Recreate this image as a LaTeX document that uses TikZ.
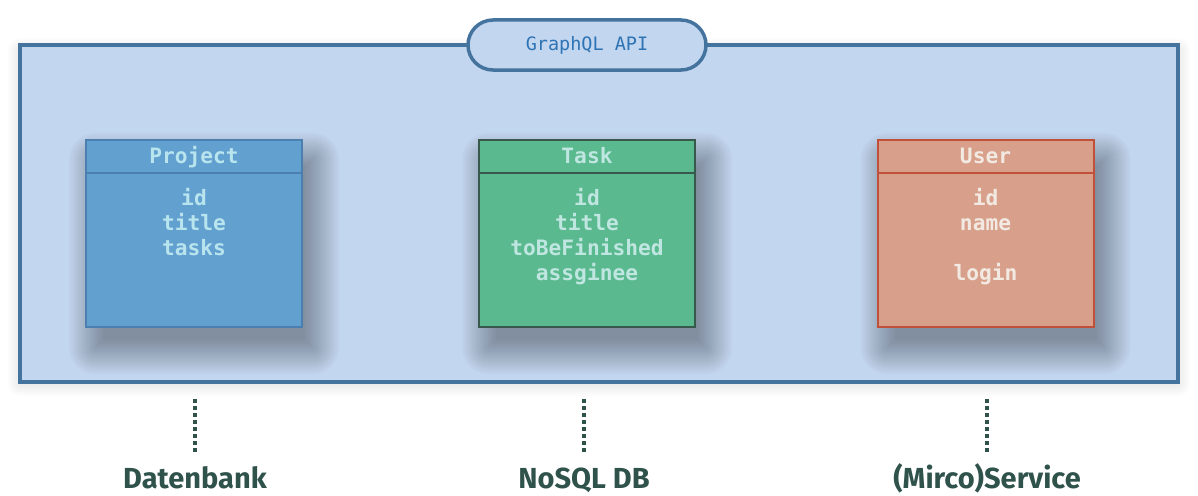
\documentclass[tikz,border=0pt]{standalone}
\usepackage{fontspec}
\setmainfont{Fira Sans}
\setmonofont{DejaVu Sans Mono}
\usetikzlibrary{calc,backgrounds}
\definecolor{apiline}{HTML}{44739E}
\definecolor{apifill}{HTML}{C3D6EF}
\definecolor{apitext}{HTML}{2E74B5}
\definecolor{pfill}{HTML}{62A0D0}
\definecolor{pline}{HTML}{4A7FB0}
\definecolor{ptext}{HTML}{B8E4EE}
\definecolor{tfill}{HTML}{5AB98E}
\definecolor{tline}{HTML}{37584A}
\definecolor{ttext}{HTML}{BFE6E0}
\definecolor{ufill}{HTML}{D8A08A}
\definecolor{uline}{HTML}{C0503A}
\definecolor{utext}{HTML}{F2EAE2}
\definecolor{labcol}{HTML}{2F524A}
\tikzset{
  entity/.style={rectangle, minimum width=216pt, minimum height=187pt, line width=2pt},
  field/.style={anchor=base, inner sep=0pt, font=\ttfamily\bfseries\fontsize{21.2}{25}\selectfont},
  backlabel/.style={anchor=base, inner sep=0pt, text=labcol, font=\bfseries\fontsize{29}{32}\selectfont},
  dotline/.style={line width=4pt, labcol, dash pattern=on 4pt off 3pt},
  shadowlayer/.style={black, opacity=0.02},
}
\newcommand\myboxshadow[1]{%
  \foreach \r in {-8,-6,...,26} {%
    \fill[shadowlayer, rounded corners={max(\r,0)*1pt}]
      ($(#1.south west)+(10-\r,20+\r)$) rectangle ($(#1.north east)+(10+\r,20-\r)$);
  }}
\begin{document}
\begin{tikzpicture}[x=1pt,y=-1pt]
\useasboundingbox (0,0) rectangle (1198,495);
% outer API box
\begin{scope}[on background layer]
\foreach \r in {0,2,...,12} {%
  \fill[black, opacity=0.012, rounded corners=\r pt] (20-\r,50-\r) rectangle (1178+\r,384+\r);
}
\node[rectangle, minimum width=1158pt, minimum height=337pt, draw=apiline, fill=apifill, line width=4pt]
  (outer) at (599,213.5) {};
\end{scope}
\node[rectangle, rounded corners=25pt, minimum width=238pt, minimum height=50pt, draw=apiline, fill=apifill,
  line width=3.5pt, text=apitext, font=\ttfamily\fontsize{18.5}{20}\selectfont] (api) at (587,45) {GraphQL API};

% Project
\node[entity, draw=pline, fill=pfill] (proj) at (194,233.5) {};
\draw[pline, line width=2pt] ([yshift=-34pt]proj.north west) -- ([yshift=-34pt]proj.north east);
\node[field, text=ptext] (projh) at (194,163) {Project};
\node[field, text=ptext] (proj1) at (194,205) {id};
\node[field, text=ptext] (proj2) at (194,230) {title};
\node[field, text=ptext] (proj3) at (194,255) {tasks};

% Task
\node[entity, draw=tline, fill=tfill] (task) at (587,233.5) {};
\draw[tline, line width=2pt] ([yshift=-34pt]task.north west) -- ([yshift=-34pt]task.north east);
\node[field, text=ttext] (taskh) at (587,163) {Task};
\node[field, text=ttext] (task1) at (587,205) {id};
\node[field, text=ttext] (task2) at (587,230) {title};
\node[field, text=ttext] (task3) at (587,255) {toBeFinished};
\node[field, text=ttext] (task4) at (587,280) {assginee};

% User
\node[entity, draw=uline, fill=ufill] (user) at (985.5,233.5) {};
\draw[uline, line width=2pt] ([yshift=-34pt]user.north west) -- ([yshift=-34pt]user.north east);
\node[field, text=utext] (userh) at (985.5,163) {User};
\node[field, text=utext] (user1) at (985.5,205) {id};
\node[field, text=utext] (user2) at (985.5,230) {name};
\node[field, text=utext] (user3) at (985.5,280) {login};

\begin{scope}[on background layer]
\myboxshadow{proj}
\myboxshadow{task}
\myboxshadow{user}
\end{scope}

% backends
\coordinate (d1a) at (195,399); \coordinate (d1b) at (195,454);
\coordinate (d2a) at (584,399); \coordinate (d2b) at (584,454);
\coordinate (d3a) at (987,399); \coordinate (d3b) at (987,454);
\draw[dotline] (d1a) -- (d1b);
\draw[dotline] (d2a) -- (d2b);
\draw[dotline] (d3a) -- (d3b);
\node[backlabel] (db) at (195,488) {Datenbank};
\node[backlabel] (nosql) at (584,488) {NoSQL DB};
\node[backlabel] (svc) at (987,488) {(Mirco)Service};
\end{tikzpicture}
\end{document}
